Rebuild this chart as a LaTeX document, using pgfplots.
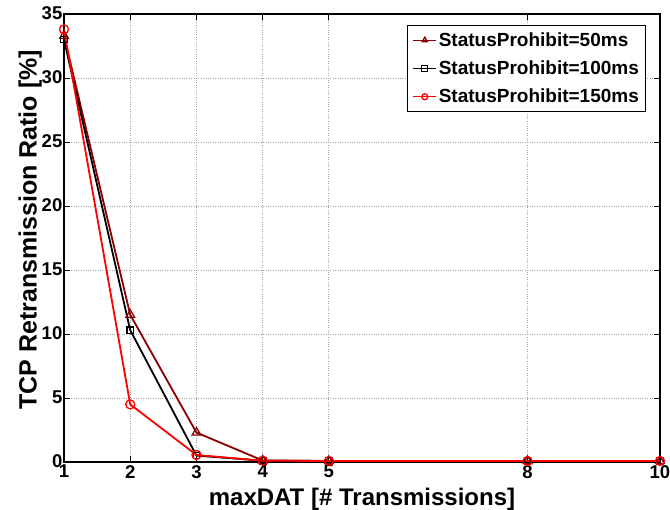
\documentclass[border=0pt]{standalone}
\usepackage{pgfplots}
\pgfplotsset{compat=1.18}
\usepackage{fontspec}
\setmainfont{Liberation Sans}
\definecolor{darkred}{rgb}{0.55,0,0}
\begin{document}
\begin{tikzpicture}[x=1pt,y=1pt]
\path[use as bounding box] (-64,-48) rectangle (606,462);
\begin{axis}[
  scale only axis, width=596pt, height=448pt,
  at={(0,0)}, anchor=south west,
  xmin=1, xmax=10, ymin=0, ymax=35,
  xtick={1,2,3,4,5,8,10}, ytick={0,5,...,35},
  grid=major,
  major grid style={dotted, gray!70, line width=0.8pt},
  tick align=inside, tick pos=both,
  major tick length=6pt,
  every tick/.style={black, line width=0.8pt},
  axis line style={line width=1.2pt},
  font=\bfseries\fontsize{18}{20}\selectfont,
  /pgf/number format/assume math mode=true,
  ticklabel style={font=\bfseries\fontsize{18.5}{20}\selectfont},
  xticklabel style={inner sep=3pt},
  yticklabel style={inner sep=1.5pt, yshift=1pt},
  xlabel={maxDAT [\# Transmissions]},
  ylabel={TCP Retransmission Ratio [\%]},
  xlabel style={font=\bfseries\fontsize{24}{26}\selectfont, at={(axis description cs:0.5,-0.097)}, anchor=base},
  ylabel style={font=\bfseries\fontsize{25}{27}\selectfont, at={(axis description cs:-0.046,0.518)}, anchor=base},
  legend style={at={(0.977,0.975)}, anchor=north east, draw=black, line width=0.8pt,
    font=\bfseries\fontsize{19}{21}\selectfont, row sep=9pt, inner sep=5pt},
  legend cell align=left,
  legend image code/.code={
    \draw[mark repeat=2, mark phase=2, #1, mark size=3pt]
      plot coordinates {(0cm,0cm) (0.4cm,0cm) (0.8cm,0cm)};},
  legend image post style={line width=1.2pt},
]
\addplot[darkred, line width=1.8pt, mark=triangle, mark size=5pt, mark options={solid, line width=1.3pt}]
 coordinates {(1,33.3) (2,11.5) (3,2.3) (4,0.12) (5,0.08) (8,0.08) (10,0.08)};
\addlegendentry{StatusProhibit=50ms}
\addplot[black, line width=1.8pt, mark=square, mark size=3.2pt, mark options={solid, line width=1.3pt}]
 coordinates {(1,33.0) (2,10.3) (3,0.5) (4,0.1) (5,0.08) (8,0.08) (10,0.08)};
\addlegendentry{StatusProhibit=100ms}
\addplot[red, line width=1.8pt, mark=o, mark size=4.5pt, mark options={solid, line width=1.3pt}]
 coordinates {(1,33.8) (2,4.5) (3,0.55) (4,0.1) (5,0.08) (8,0.08) (10,0.08)};
\addlegendentry{StatusProhibit=150ms}
\end{axis}
\end{tikzpicture}
\end{document}
